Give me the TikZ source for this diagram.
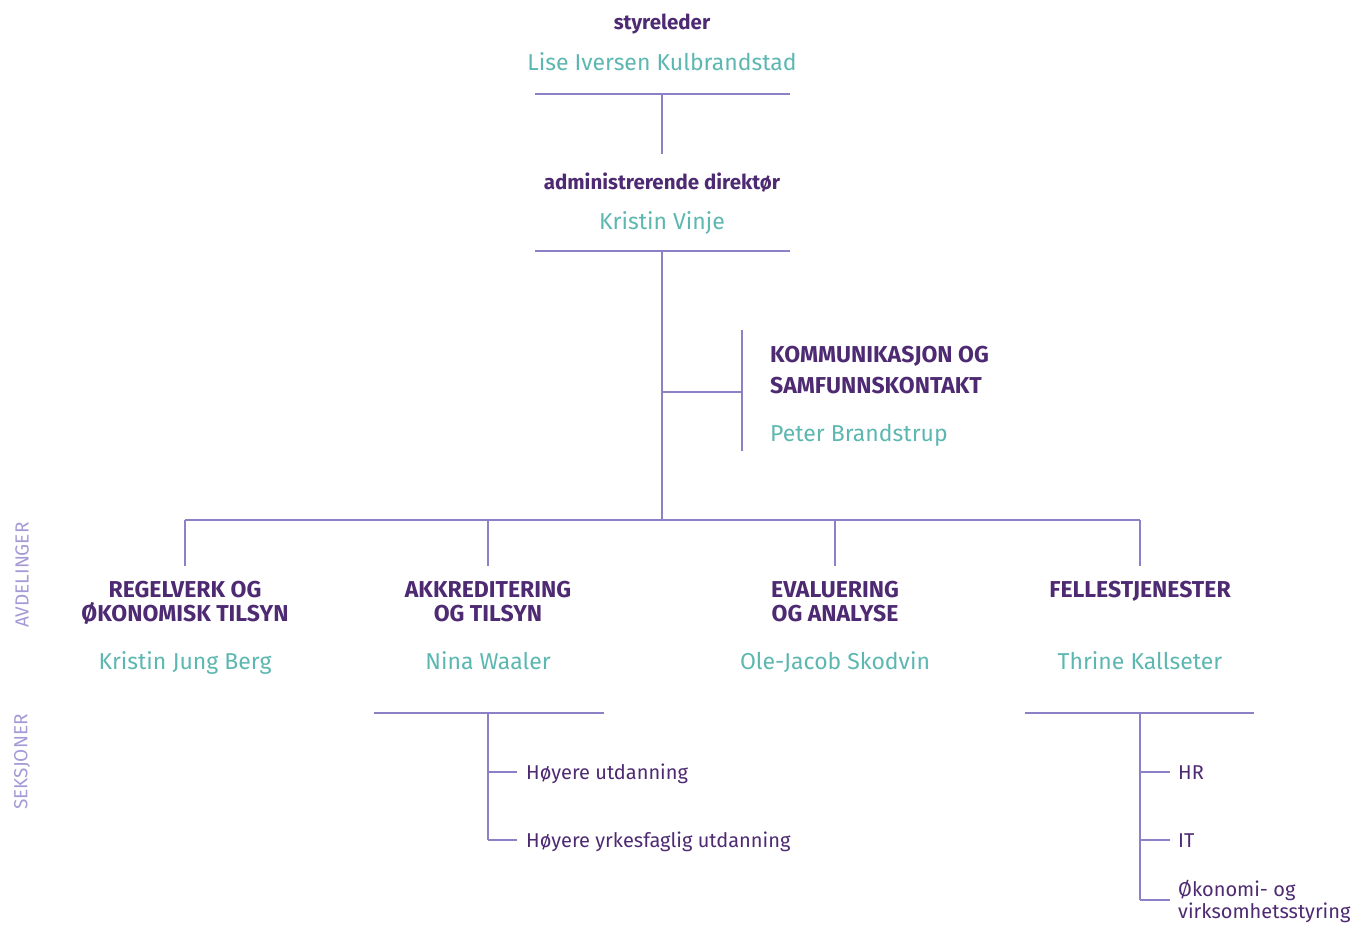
\documentclass[tikz,border=0pt]{standalone}
\usepackage{fontspec}
\setmainfont{Fira Sans}
\usetikzlibrary{positioning}
\definecolor{plum}{HTML}{4E2A72}
\definecolor{mint}{HTML}{5DB7B1}
\definecolor{lilac}{HTML}{8E80C6}
\definecolor{faded}{HTML}{A59AD6}

\begin{document}
\begin{tikzpicture}[x=1pt,y=-1pt,
    every node/.style={inner sep=0pt,anchor=base},
    role/.style={text=plum,font=\fontsize{20.5}{24}\selectfont\bfseries},
    person/.style={text=mint,font=\fontsize{23}{26}\selectfont},
    dept/.style={text=plum,align=center,font=\fontsize{23}{24}\selectfont\bfseries},
    section/.style={text=plum,anchor=base west,align=left,font=\fontsize{20}{22}\selectfont},
    sidelabel/.style={text=faded,rotate=90,anchor=center,font=\fontsize{19}{20}\selectfont},
    rule/.style={draw=lilac,line width=1.8pt},
    link/.style={draw=lilac,line width=1.2pt}]
    \useasboundingbox (0,0) rectangle (1365,924);

    % Board chair
    \node[role] (chairrole) at (662,29) {styreleder};
    \node[person] (chair) at (662,70) {Lise Iversen Kulbrandstad};
    \coordinate (chairL) at (535,94);
    \coordinate (chairR) at (790,94);
    \coordinate (chairC) at (662,94);
    \draw[rule] (chairL) -- (chairR);

    % Director
    \node[role] (dirrole) at (662,189) {administrerende direktør};
    \node[person] (dir) at (662,229) {Kristin Vinje};
    \coordinate (dirtop) at (662,154);
    \coordinate (dirL) at (535,251);
    \coordinate (dirR) at (790,251);
    \coordinate (dirC) at (662,251);
    \draw[rule] (dirL) -- (dirR);
    \draw[link] (chairC) -- (dirtop);

    % Staff: communication (base = last line)
    \coordinate (staffjoin) at (662,392);
    \coordinate (staffbar) at (742,392);
    \coordinate (staffT) at (742,330);
    \coordinate (staffB) at (742,451);
    \node[dept,anchor=base west,align=left,font=\fontsize{23}{31}\selectfont\bfseries] (comm) at (770,393) {KOMMUNIKASJON OG\\SAMFUNNSKONTAKT};
    \node[person,anchor=base west] (commhead) at (770,441) {Peter Brandstrup};
    \draw[link] (staffT) -- (staffB);
    \draw[link] (staffjoin) -- (staffbar);

    % Bus to departments
    \coordinate (busC) at (662,520);
    \coordinate (busL) at (185,520);
    \coordinate (busR) at (1140,520);
    \draw[link] (dirC) -- (busC);
    \draw[link] (busL) -- (busR);
    \foreach \x/\name in {185/reg,488/akk,835/eva,1140/fel}{
        \coordinate (\name top) at (\x,520);
        \coordinate (\name drop) at (\x,566);
        \draw[link] (\name top) -- (\name drop);
    }

    % Departments
    \node[dept] (reg) at (185,621) {REGELVERK OG\\ØKONOMISK TILSYN};
    \node[dept] (akk) at (488,621) {AKKREDITERING\\OG TILSYN};
    \node[dept] (eva) at (835,621) {EVALUERING\\OG ANALYSE};
    \node[dept] (fel) at (1140,597) {FELLESTJENESTER};
    \node[person] (reghead) at (185,669) {Kristin Jung Berg};
    \node[person] (akkhead) at (488,669) {Nina Waaler};
    \node[person] (evahead) at (835,669) {Ole-Jacob Skodvin};
    \node[person] (felhead) at (1140,669) {Thrine Kallseter};

    % Sections under Akkreditering
    \coordinate (akkL) at (374,713);
    \coordinate (akkR) at (604,713);
    \coordinate (akkC) at (488,713);
    \coordinate (akkend) at (488,840);
    \draw[rule] (akkL) -- (akkR);
    \draw[link] (akkC) -- (akkend);
    \node[section] (hu) at (526,779) {Høyere utdanning};
    \node[section] (hyu) at (526,847) {Høyere yrkesfaglig utdanning};
    \draw[link] (488,772) -- ([xshift=-9pt]hu.west |- 0,772);
    \draw[link] (akkend) -- ([xshift=-9pt]hyu.west |- 0,840);

    % Sections under Fellestjenester
    \coordinate (felL) at (1025,713);
    \coordinate (felR) at (1254,713);
    \coordinate (felC) at (1140,713);
    \coordinate (felend) at (1140,900);
    \draw[rule] (felL) -- (felR);
    \draw[link] (felC) -- (felend);
    \node[section] (hr) at (1178,779) {HR};
    \node[section] (it) at (1178,847) {IT};
    \node[section] (oko) at (1178,918) {Økonomi- og\\virksomhetsstyring};
    \draw[link] (1140,772) -- ([xshift=-8pt]hr.west |- 0,772);
    \draw[link] (1140,840) -- ([xshift=-8pt]it.west |- 0,840);
    \draw[link] (felend) -- ([xshift=-8pt]oko.west |- 0,900);

    % Side labels
    \node[sidelabel] (avd) at (22,575) {AVDELINGER};
    \node[sidelabel] (seks) at (22,762) {SEKSJONER};
\end{tikzpicture}
\end{document}
